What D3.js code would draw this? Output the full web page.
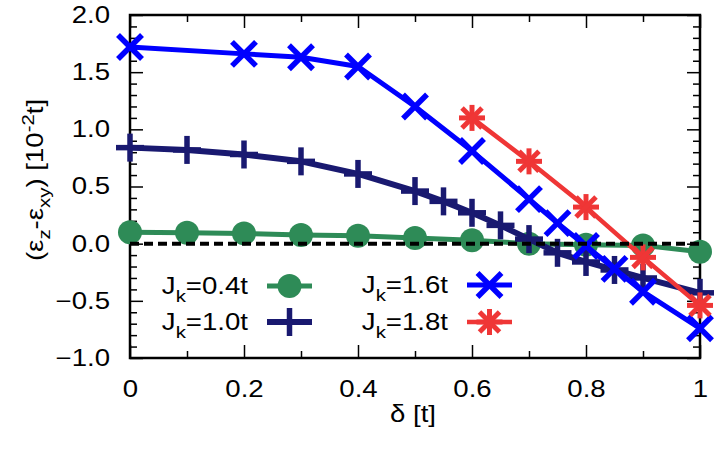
<!DOCTYPE html>
<html>
<head>
<meta charset="utf-8">
<script src="https://cdn.jsdelivr.net/npm/d3@7"></script>
<style>
  body { margin: 0; background: #fff; }
  svg { font-family: "Liberation Sans", Arial, Helvetica, sans-serif; }
</style>
</head>
<body>
<svg id="chart" width="719" height="449"></svg>
<script>
// values, delta in units of t, energy difference in 10^-2 t
var deltaJ04 = [0, 0.1, 0.2, 0.3, 0.4, 0.5, 0.6, 0.7, 0.8, 0.9, 1.0];
var diffJ04  = [0.10, 0.095, 0.09, 0.075, 0.07, 0.05, 0.03, 0.0, -0.01, -0.015, -0.07];

var deltaJ10 = [0, 0.1, 0.2, 0.3, 0.4, 0.5, 0.55, 0.6, 0.65, 0.7, 0.75, 0.8, 0.85, 0.9, 1.0];
var diffJ10  = [0.84, 0.82, 0.78, 0.72, 0.61, 0.46, 0.37, 0.27, 0.16, 0.04, -0.08, -0.16, -0.23, -0.30, -0.43];

var deltaJ16 = [0, 0.2, 0.3, 0.4, 0.5, 0.6, 0.7, 0.75, 0.8, 0.85, 0.9, 1.0];
var diffJ16  = [1.72, 1.66, 1.63, 1.55, 1.20, 0.81, 0.39, 0.18, -0.02, -0.22, -0.42, -0.74];

var deltaJ18 = [0.6, 0.7, 0.8, 0.9, 1.0];
var diffJ18  = [1.10, 0.72, 0.32, -0.12, -0.54];

var seriesNames = ["0.4t", "1.0t", "1.6t", "1.8t"];

var xMajorTicks = [0, 0.2, 0.4, 0.6, 0.8, 1];
var xMinorTicks = [0.1, 0.3, 0.5, 0.7, 0.9];
var yMajorTicks = [-1, -0.5, 0, 0.5, 1, 1.5, 2];
var yMinorTicks = [-0.9, -0.8, -0.7, -0.6, -0.4, -0.3, -0.2, -0.1,
                   0.1, 0.2, 0.3, 0.4, 0.6, 0.7, 0.8, 0.9,
                   1.1, 1.2, 1.3, 1.4, 1.6, 1.7, 1.8, 1.9];

var svg = d3.select("#chart");
var mLeft = 130, mRight = 700, mTop = 15, mBottom = 358;

var x = d3.scaleLinear().domain([0, 1]).range([mLeft, mRight]);
var y = d3.scaleLinear().domain([-1, 2]).range([mBottom, mTop]);

var fontSize = 23;
var stretch = 1.2;   // the original lettering is a bit wider than Liberation Sans

// widen a text horizontally around its anchor x
function widen(sel, ax) {
    sel.attr("transform", "translate(" + ax + ",0) scale(" + stretch + ",1) translate(" + (-ax) + ",0)");
}

function styleAxis(g) {
    g.select(".domain").remove();
    g.selectAll(".tick line").attr("stroke", "#000").attr("stroke-width", 1.5);
    g.selectAll(".tick text").attr("font-size", fontSize).attr("fill", "#000")
        .attr("font-family", "Liberation Sans, Arial, sans-serif")
        .each(function() {
            var t = d3.select(this);
            widen(t, +t.attr("x") || 0);
        });
}

var fmtX = function(d) { return (d === 0 || d === 1) ? String(d) : d3.format(".1f")(d); };

// ticks on all four sides, pointing inwards
svg.append("g").attr("transform", "translate(0," + mBottom + ")")
    .call(d3.axisBottom(x).tickValues(xMajorTicks).tickSizeInner(-13).tickSizeOuter(0)
        .tickPadding(23).tickFormat(fmtX))
    .call(styleAxis);
svg.append("g").attr("transform", "translate(0," + mBottom + ")")
    .call(d3.axisBottom(x).tickValues(xMinorTicks).tickSizeInner(-7).tickSizeOuter(0).tickFormat(""))
    .call(styleAxis);
svg.append("g").attr("transform", "translate(0," + mTop + ")")
    .call(d3.axisTop(x).tickValues(xMajorTicks).tickSizeInner(-13).tickSizeOuter(0).tickFormat(""))
    .call(styleAxis);
svg.append("g").attr("transform", "translate(0," + mTop + ")")
    .call(d3.axisTop(x).tickValues(xMinorTicks).tickSizeInner(-7).tickSizeOuter(0).tickFormat(""))
    .call(styleAxis);

svg.append("g").attr("transform", "translate(" + mLeft + ",0)")
    .call(d3.axisLeft(y).tickValues(yMajorTicks).tickSizeInner(-13).tickSizeOuter(0)
        .tickPadding(20).tickFormat(d3.format(".1f")))
    .call(styleAxis);
svg.append("g").attr("transform", "translate(" + mLeft + ",0)")
    .call(d3.axisLeft(y).tickValues(yMinorTicks).tickSizeInner(-7).tickSizeOuter(0).tickFormat(""))
    .call(styleAxis);
svg.append("g").attr("transform", "translate(" + mRight + ",0)")
    .call(d3.axisRight(y).tickValues(yMajorTicks).tickSizeInner(-13).tickSizeOuter(0).tickFormat(""))
    .call(styleAxis);
svg.append("g").attr("transform", "translate(" + mRight + ",0)")
    .call(d3.axisRight(y).tickValues(yMinorTicks).tickSizeInner(-7).tickSizeOuter(0).tickFormat(""))
    .call(styleAxis);

// frame
svg.append("rect")
    .attr("x", mLeft).attr("y", mTop)
    .attr("width", mRight - mLeft).attr("height", mBottom - mTop)
    .attr("fill", "none").attr("stroke", "#000").attr("stroke-width", 2.5);

// markers (gnuplot-like point types)
function marker(g, type, cx, cy, color) {
    if (type === "circle") {
        g.append("circle").attr("cx", cx).attr("cy", cy).attr("r", 12).attr("fill", color);
        return;
    }
    var segs = [];
    if (type === "plus") {
        segs = [[-14, 0, 14, 0], [0, -14, 0, 14]];
    } else if (type === "cross") {
        segs = [[-12, -12, 12, 12], [-12, 12, 12, -12]];
    } else if (type === "star") {
        segs = [[-13, 0, 13, 0], [0, -13, 0, 13], [-10, -10, 10, 10], [-10, 10, 10, -10]];
    }
    segs.forEach(function(s) {
        g.append("line")
            .attr("x1", cx + s[0]).attr("y1", cy + s[1])
            .attr("x2", cx + s[2]).attr("y2", cy + s[3])
            .attr("stroke", color).attr("stroke-width", type === "star" ? 5 : 5.5);
    });
}

var series = [
    { name: seriesNames[0], xs: deltaJ04, ys: diffJ04, color: "#2e8b57", type: "circle", lw: 5 },
    { name: seriesNames[1], xs: deltaJ10, ys: diffJ10, color: "#191970", type: "plus",   lw: 6 },
    { name: seriesNames[2], xs: deltaJ16, ys: diffJ16, color: "#0000ff", type: "cross",  lw: 5 },
    { name: seriesNames[3], xs: deltaJ18, ys: diffJ18, color: "#ef3636", type: "star",   lw: 4.5 }
];

var line = d3.line().x(function(d) { return x(d[0]); }).y(function(d) { return y(d[1]); });

series.forEach(function(s) {
    var pts = s.xs.map(function(v, i) { return [v, s.ys[i]]; });
    var g = svg.append("g");
    g.append("path").attr("d", line(pts))
        .attr("fill", "none").attr("stroke", s.color).attr("stroke-width", s.lw)
        .attr("stroke-linejoin", "round");
    pts.forEach(function(p) { marker(g, s.type, x(p[0]), y(p[1]), s.color); });
});

// zero line
svg.append("line")
    .attr("x1", x(0)).attr("x2", x(1))
    .attr("y1", y(0)).attr("y2", y(0))
    .attr("stroke", "#000").attr("stroke-width", 4)
    .attr("stroke-dasharray", "9,5");

// legend, two columns
var legendPos = [
    { textEnd: 248, y: 286 }, { textEnd: 248, y: 322 },
    { textEnd: 448, y: 285 }, { textEnd: 448, y: 322 }
];
series.forEach(function(s, i) {
    var p = legendPos[i];
    var g = svg.append("g");
    var t = g.append("text")
        .attr("x", p.textEnd).attr("y", p.y + 8)
        .attr("text-anchor", "end").attr("font-size", fontSize).attr("fill", "#000");
    t.append("tspan").text("J");
    t.append("tspan").attr("dy", 8).attr("font-size", 17).text("k");
    t.append("tspan").attr("dy", -8).text("=" + s.name);
    widen(t, p.textEnd);
    var x0 = p.textEnd + 19, x1 = p.textEnd + 64;
    g.append("line").attr("x1", x0).attr("x2", x1).attr("y1", p.y).attr("y2", p.y)
        .attr("stroke", s.color).attr("stroke-width", s.lw);
    marker(g, s.type, (x0 + x1) / 2, p.y, s.color);
});

// axis titles
var xt = svg.append("text")
    .attr("x", 413).attr("y", 422)
    .attr("text-anchor", "middle").attr("font-size", fontSize).attr("fill", "#000")
    .text("δ [t]");
widen(xt, 413);

var yt = svg.append("text")
    .attr("transform", "translate(43,180) rotate(-90) scale(" + stretch + ",1)")
    .attr("text-anchor", "middle").attr("font-size", fontSize).attr("fill", "#000");
yt.append("tspan").text("(ε");
yt.append("tspan").attr("dy", 7).attr("font-size", 17).text("z");
yt.append("tspan").attr("dy", -7).text("-ε");
yt.append("tspan").attr("dy", 7).attr("font-size", 17).text("xy");
yt.append("tspan").attr("dy", -7).text(") [10");
yt.append("tspan").attr("dy", -9).attr("font-size", 17).text("-2");
yt.append("tspan").attr("dy", 9).text("t]");
</script>
</body>
</html>
